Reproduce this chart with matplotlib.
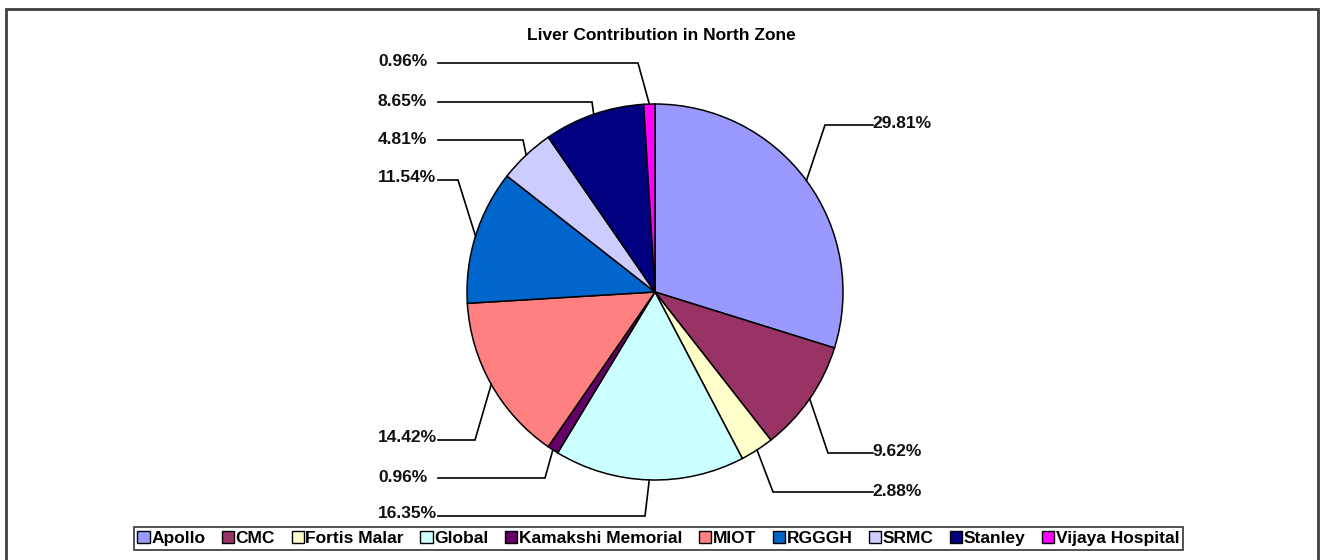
import numpy as np
import matplotlib
matplotlib.use("Agg")
import matplotlib.pyplot as plt
from matplotlib.patches import Rectangle, Patch

categories = ["Apollo", "CMC", "Fortis Malar", "Global", "Kamakshi Memorial",
              "MIOT", "RGGGH", "SRMC", "Stanley", "Vijaya Hospital"]
values = [29.81, 9.62, 2.88, 16.35, 0.96, 14.42, 11.54, 4.81, 8.65, 0.96]
colors = ["#9999FF", "#993366", "#FFFFCC", "#CCFFFF", "#660066",
          "#FF8080", "#0066CC", "#CCCCFF", "#000080", "#FF00FF"]
title = "Liver Contribution in North Zone"

# layout (pixel coordinates, y measured from the top)
W, H = 1324, 560
cx, cy, R = 655, 292, 188
# label anchor (text x, text y) and elbow point (x, y) for each slice
label_side = ["R", "R", "R", "L", "L", "L", "L", "L", "L", "L"]
label_xy = [(872, 123), (872, 452), (872, 491), (378, 514), (378, 477),
            (378, 437), (378, 178), (378, 139), (378, 101), (378, 61)]
elbow_xy = [(825, 125), (828, 453), (773, 492), (645, 516), (545, 478),
            (475, 440), (458, 180), (523, 140), (592, 102), (638, 63)]

FS = 12.5
plt.rcParams['font.family'] = ['Liberation Sans', 'DejaVu Sans']

fig = plt.figure(figsize=(W / 100, H / 100), dpi=100)
ax = fig.add_axes([0, 0, 1, 1])


def fy(y):
    return H - y


wedges, _ = ax.pie(values, colors=colors, startangle=90, counterclock=False,
                   center=(cx, fy(cy)), radius=R,
                   wedgeprops=dict(edgecolor='black', linewidth=1.1),
                   frame=True)
ax.set_xlim(0, W)
ax.set_ylim(0, H)
ax.set_aspect('equal')
ax.axis('off')

total = sum(values)
for i, w in enumerate(wedges):
    mid = np.deg2rad((w.theta1 + w.theta2) / 2)
    sx = cx + R * np.cos(mid)
    sy = cy - R * np.sin(mid)
    ex, ey = elbow_xy[i]
    tx, ty = label_xy[i]
    pct = values[i] / total * 100
    txt = f"{pct:.2f}%"
    hx = tx + 1 if label_side[i] == "R" else 438
    ax.plot([sx, ex, hx], [fy(sy), fy(ey), fy(ey)], color='black', lw=1.2,
            solid_joinstyle='miter')
    ax.text(tx, fy(ty), txt, ha='left', va='center', fontsize=FS,
            fontweight='bold', color='#111111')

ax.text(661, fy(35), title, ha='center', va='center', fontsize=FS,
        fontweight='bold')

# outer frame
fig.patches.append(Rectangle((6 / W, -0.05), (1318 - 6) / W, (H - 9) / H + 0.05,
                             transform=fig.transFigure, fill=False,
                             edgecolor='#404040', linewidth=2.0))

handles = [Patch(facecolor=c, edgecolor='black', linewidth=1.0) for c in colors]
leg = fig.legend(handles, categories, loc='center', ncol=len(categories),
                 bbox_to_anchor=(658.5 / W, 1 - 538.5 / H),
                 frameon=True, fancybox=False, edgecolor='black',
                 handlelength=0.7, handleheight=0.7, handletextpad=0.1,
                 columnspacing=0.95, borderpad=0.2,
                 prop=dict(size=FS, weight='bold'))
leg.get_frame().set_linewidth(1.2)

fig.savefig("out.png", dpi=100)
